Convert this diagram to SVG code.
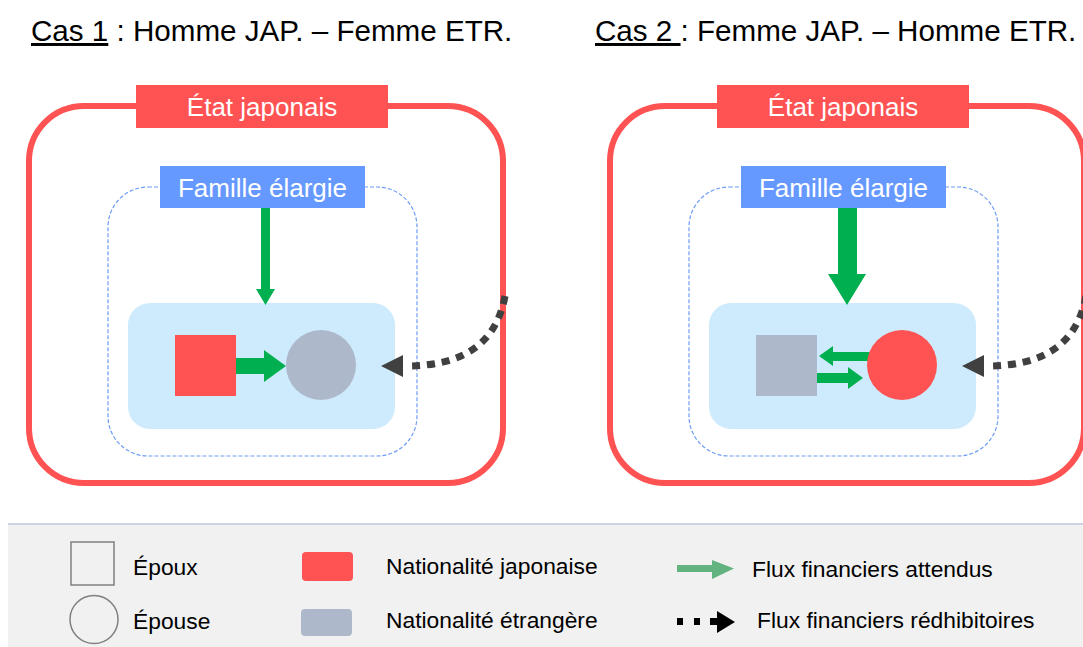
<svg xmlns="http://www.w3.org/2000/svg" width="1083" height="647" viewBox="0 0 1083 647">
<style>
text{font-family:"Liberation Sans",Arial,sans-serif}
.title{font-size:29.6px;fill:#000}
.lbl{font-size:26px;fill:#fff;text-anchor:middle}
.leg{font-size:22.8px;fill:#000}
.state{fill:none;stroke:#ff5252;stroke-width:6}
.statelbl{fill:#ff5252}
.fam{fill:none;stroke:#6d9cf5;stroke-width:1.2;stroke-dasharray:4 2}
.famlbl{fill:#6699ff}
.couple{fill:#cdebfd}
.jp{fill:#ff5252}
.et{fill:#adb8ca}
.flow{fill:#00b050}
.dot{fill:none;stroke:#404040;stroke-width:7;stroke-dasharray:8 7}
.dothead{fill:#404040}
</style>
<rect width="1083" height="647" fill="#fff"/>

<g id="title1"><text class="title" x="31" y="41"><tspan text-decoration="underline">Cas 1</tspan> : Homme JAP. – Femme ETR.</text></g>
<g id="title2"><text class="title" x="595" y="41"><tspan text-decoration="underline">Cas 2 </tspan>: Femme JAP. – Homme ETR.</text></g>

<!-- Case 1 -->
<g id="state1">
<rect class="state" x="29" y="106" width="474" height="377" rx="55"/>
<rect class="statelbl" x="136" y="85" width="252" height="43"/>
<text class="lbl" x="262" y="116">État japonais</text>
</g>
<g id="family1">
<rect class="fam" x="108" y="187" width="309" height="269" rx="40"/>
<rect class="famlbl" x="160" y="166" width="205" height="42"/>
<text class="lbl" x="262.5" y="197">Famille élargie</text>
</g>
<g id="couple1"><rect class="couple" x="128" y="303" width="267" height="126" rx="22"/></g>
<g id="husband1"><rect class="jp" x="175" y="335" width="61" height="61"/></g>
<g id="wife1"><circle class="et" cx="321" cy="365" r="35"/></g>

<!-- Case 2 -->
<g id="state2">
<rect class="state" x="610" y="106" width="474" height="377" rx="55"/>
<rect class="statelbl" x="717" y="85" width="252" height="43"/>
<text class="lbl" x="843" y="116">État japonais</text>
</g>
<g id="family2">
<rect class="fam" x="689" y="187" width="309" height="269" rx="40"/>
<rect class="famlbl" x="741" y="166" width="205" height="42"/>
<text class="lbl" x="843.5" y="197">Famille élargie</text>
</g>
<g id="couple2"><rect class="couple" x="709" y="303" width="267" height="126" rx="22"/></g>
<g id="husband2"><rect class="et" x="756" y="335" width="61" height="61"/></g>

<g id="connectors">
<polygon class="flow" points="261,208 270,208 270,289 275,289 265.5,305 256,289 261,289"/>
<polygon class="flow" points="236,358 264,358 264,350 286,366 264,382 264,374 236,374"/>
<path class="dot" d="M505,296 C496,345 462,366 405,366"/>
<polygon class="dothead" points="381,366 403,355 403,377"/>

<polygon class="flow" points="838,208 857,208 857,274 866,274 847,305 828,274 838,274"/>
<polygon class="flow" points="875,352 833,352 833,346 819,356 833,366 833,361 875,361"/>
<polygon class="flow" points="817,373 848,373 848,367 863,378 848,389 848,383 817,383"/>
<path class="dot" d="M1086,296 C1077,345 1043,366 986,366"/>
<polygon class="dothead" points="962,366 984,355 984,377"/>
</g>
<g id="wife2"><circle class="jp" cx="902" cy="365" r="35"/></g>

<!-- Legend -->
<g id="legend">
<rect x="8" y="524" width="1080" height="130" fill="#f1f1f1"/>
<line x1="8" y1="524" x2="1083" y2="524" stroke="#ccd3de" stroke-width="2"/>
<rect x="71" y="542" width="43" height="43" fill="none" stroke="#808080" stroke-width="1.5"/>
<text class="leg" x="133" y="575">Époux</text>
<circle cx="94" cy="619.5" r="24" fill="none" stroke="#808080" stroke-width="1.5"/>
<text class="leg" x="133" y="629">Épouse</text>
<rect x="302" y="552" width="51" height="29" rx="4" fill="#ff5252"/>
<text class="leg" x="386" y="574">Nationalité japonaise</text>
<rect x="301" y="609" width="51" height="27" rx="4" fill="#adb8ca"/>
<text class="leg" x="386" y="628">Nationalité étrangère</text>
<polygon points="677,565 712,565 712,560 734,568.5 712,579 712,572 677,572" fill="#62b37f"/>
<text class="leg" x="752" y="577">Flux financiers attendus</text>
<rect x="677" y="618" width="6" height="7" fill="#000"/>
<rect x="694" y="618" width="6" height="7" fill="#000"/>
<rect x="710" y="618" width="9" height="7" fill="#000"/>
<polygon points="735,622 717,611 717,633" fill="#000"/>
<text class="leg" x="757" y="628">Flux financiers rédhibitoires</text>
</g>
</svg>
